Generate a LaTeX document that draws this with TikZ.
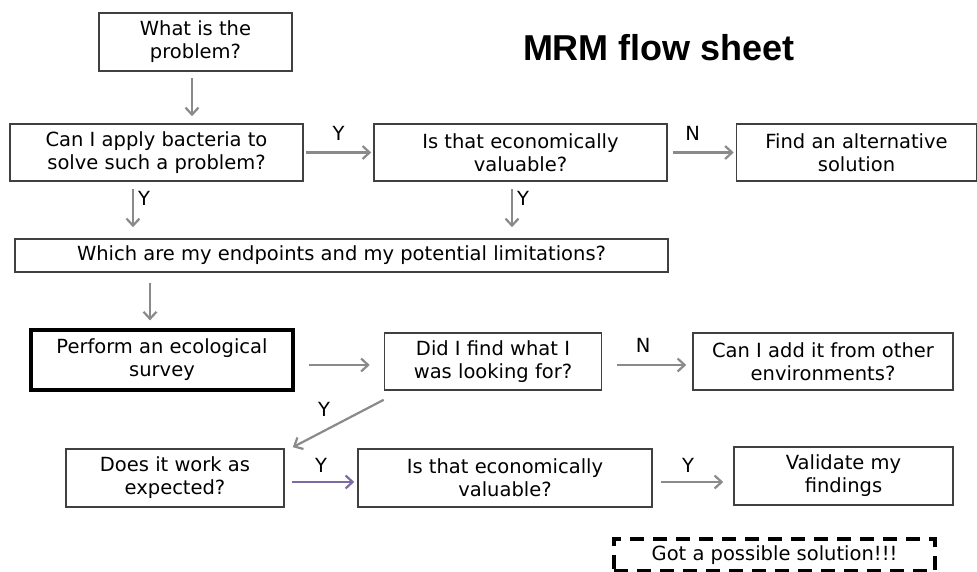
\documentclass[tikz,border=0pt]{standalone}
\usepackage{fontspec}
\setmainfont{DejaVu Sans}
\newfontfamily\titlefont{Liberation Sans}
\usetikzlibrary{arrows.meta,positioning}
\definecolor{boxline}{HTML}{404040}
\definecolor{flowgray}{HTML}{8A8A8A}
\definecolor{flowpurple}{HTML}{7E6AA2}
\tikzset{>={Straight Barb[length=7pt,width=13pt]},
  every node/.style={font=\fontsize{19.5}{23}\selectfont},
  box/.style={draw=boxline,line width=1.6pt,fill=white,align=center,inner sep=0pt},
  startbox/.style={box,draw=black,line width=3.2pt},
  goalbox/.style={draw=black,line width=3.2pt,dash pattern=on 14pt off 9pt,align=center,inner sep=0pt},
  flow/.style={->,draw=flowgray,line width=2.2pt},
  answer/.style={inner sep=1pt}}
\begin{document}
\begin{tikzpicture}[x=1pt,y=-1pt]
\useasboundingbox (0,0) rectangle (977,572);
% title
\node[font=\titlefont\bfseries\fontsize{36}{42}\selectfont] (title) at (659,48) {MRM flow sheet};
% boxes
\node[box,minimum width=193,minimum height=58] (problem) at (195.5,42) {What is the\\problem?};
\node[box,minimum width=293,minimum height=57] (apply) at (156.5,152.5) {Can I apply bacteria to\\solve such a problem?};
\node[box,minimum width=293,minimum height=57] (value1) at (520.5,152.5) {Is that economically\\valuable?};
\node[box,minimum width=240,minimum height=57] (altern) at (856.5,152.5) {Find an alternative\\solution};
\node[box,minimum width=653,minimum height=33] (limits) at (341.5,255.5) {Which are my endpoints and my potential limitations?};
\node[startbox,minimum width=262,minimum height=60] (survey) at (162,360) {Perform an ecological\\survey};
\node[box,minimum width=217,minimum height=57] (found) at (493,361.5) {Did I find what I\\was looking for?};
\node[box,minimum width=260,minimum height=57] (addit) at (823,361.5) {Can I add it from other\\environments?};
\node[box,minimum width=218,minimum height=58] (works) at (175,478) {Does it work as\\expected?};
\node[box,minimum width=294,minimum height=58] (value2) at (505,478) {Is that economically\\valuable?};
\node[box,minimum width=219,minimum height=58] (valid) at (843.5,476) {Validate my\\findings};
\node[goalbox,minimum width=321,minimum height=32] (goal) at (774.5,555) {Got a possible solution!!!};
% connectors
\draw[flow,shorten <=6pt,shorten >=7pt] (problem.south -| 192,0) -- (apply.north -| 192,0);
\draw[flow,shorten <=2pt,shorten >=2pt] (apply) -- (value1) node[answer,midway,above=10pt] (y1) {Y};
\draw[flow,shorten <=5pt,shorten >=2pt] (value1) -- (altern) node[answer,midway,above=10pt,xshift=-9pt] (n1) {N};
\draw[flow,shorten <=7pt,shorten >=11pt] (apply.south -| 133,0) -- (limits.north -| 133,0)
  node[answer,pos=.3,right=3pt] (y2) {Y};
\draw[flow,shorten <=7pt,shorten >=11pt] (value1.south -| 512,0) -- (limits.north -| 512,0)
  node[answer,pos=.3,right=3pt] (y3) {Y};
\draw[flow,shorten <=10pt,shorten >=8pt] (limits.south -| 150,0) -- (survey.north -| 150,0);
\draw[flow,shorten <=14pt,shorten >=14pt] (survey.east |- 0,365) -- (found.west |- 0,365);
\draw[flow,shorten <=15pt,shorten >=6pt] (found.east |- 0,365) -- (addit.west |- 0,365)
  node[answer,midway,above=10pt,xshift=-4pt] (n2) {N};
\draw[flow] ([yshift=-9pt]found.south west) -- ([xshift=8pt,yshift=1pt]works.north east);
\node[answer] (y4) at (324,409) {Y};
\draw[flow,draw=flowpurple,shorten <=7pt,shorten >=3pt] (works.east |- 0,482) -- (value2.west |- 0,482)
  node[answer,midway,above=7pt] (y5) {Y};
\draw[flow,shorten <=8pt,shorten >=10pt] (value2.east |- 0,482) -- (valid.west |- 0,482)
  node[answer,midway,above=7pt,xshift=-5pt] (y6) {Y};
\end{tikzpicture}
\end{document}
